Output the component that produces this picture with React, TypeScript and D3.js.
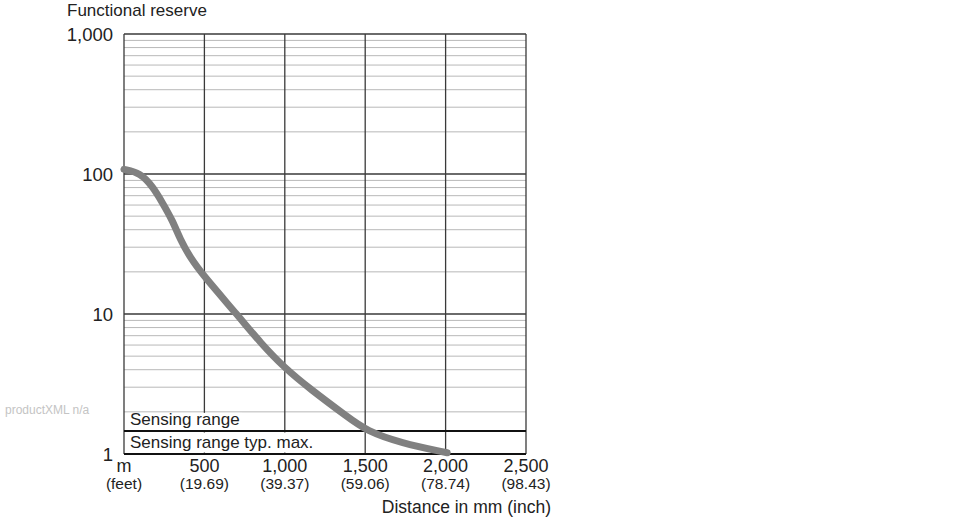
import React from "react";
import * as d3 from "d3";

const distances = [0, 100, 180, 240, 300, 350, 410, 490, 710, 850, 1000, 1160, 1390, 1510, 1720, 2010];
const reserve = [108, 102, 81, 62, 47, 34, 25.5, 19, 9.7, 6.2, 4.1, 2.9, 1.84, 1.46, 1.2, 1.02];

const xTicks = [0, 500, 1000, 1500, 2000, 2500];
const xLabels = ["m", "500", "1,000", "1,500", "2,000", "2,500"];
const xSubLabels = ["(feet)", "(19.69)", "(39.37)", "(59.06)", "(78.74)", "(98.43)"];
const yTicks = [1, 10, 100, 1000];
const yLabels = ["1", "10", "100", "1,000"];
const sensingRangeValue = 2;
const sensingRangeMaxValue = 1.46;

const W = 970;
const H = 520;
const FONT = "'Liberation Sans', Arial, sans-serif";
const TEXT = "#222";

export default function App() {
  const x = d3.scaleLinear().domain([0, 2500]).range([124, 526]);
  const y = d3.scaleLog().domain([1, 1000]).range([454, 34]);

  const minor: number[] = [];
  for (const dec of [1, 10, 100]) {
    for (let k = 2; k <= 9; k++) minor.push(dec * k);
  }

  const line = d3
    .line<number>()
    .x((_, i) => x(distances[i]))
    .y((d) => y(d))
    .curve(d3.curveBasis);

  const x0 = x(0);
  const x1 = x(2500);
  const ySR = y(sensingRangeValue);
  const ySRM = y(sensingRangeMaxValue);

  return (
    <svg
      width={W}
      height={H}
      style={{ position: "absolute", left: 0, top: 0, background: "#fff" }}
      fontFamily={FONT}
    >
      <rect x={0} y={0} width={W} height={H} fill="#fff" />
      {minor.map((v) => (
        <line key={"m" + v} x1={x0} x2={x1} y1={y(v)} y2={y(v)} stroke="#b8b8b8" strokeWidth={1} />
      ))}
      {xTicks.map((t) => (
        <line key={"v" + t} x1={x(t)} x2={x(t)} y1={y(1000)} y2={y(1)} stroke="#3a3a3a" strokeWidth={1.3} />
      ))}
      {yTicks.map((t) => (
        <line key={"h" + t} x1={x0} x2={x1} y1={y(t)} y2={y(t)} stroke="#3a3a3a" strokeWidth={1.3} />
      ))}
      <rect x={128} y={ySR + 1} width={114} height={ySRM - ySR - 2} fill="#fff" />
      <rect x={128} y={ySRM + 1.5} width={188} height={y(1) - ySRM - 3} fill="#fff" />
      <line x1={x0} x2={x1} y1={ySRM} y2={ySRM} stroke="#111" strokeWidth={2} />
      <line x1={x0} x2={x1} y1={y(1)} y2={y(1)} stroke="#111" strokeWidth={2} />
      <text x={130} y={425} fontSize={17} fill={TEXT}>Sensing range</text>
      <text x={130} y={448} fontSize={17} fill={TEXT}>Sensing range typ. max.</text>

      <path
        d={line(reserve) || ""}
        fill="none"
        stroke="#808080"
        strokeWidth={7}
        strokeLinecap="round"
        strokeLinejoin="round"
      />

      {yTicks.map((t, i) => (
        <text key={"yl" + t} x={113} y={y(t) + 6.5} textAnchor="end" fontSize={18.5} fill={TEXT}>
          {yLabels[i]}
        </text>
      ))}
      {xTicks.map((t, i) => (
        <g key={"xl" + t}>
          <text x={x(t)} y={472} textAnchor="middle" fontSize={18} fill={TEXT}>
            {xLabels[i]}
          </text>
          <text x={x(t)} y={489} textAnchor="middle" fontSize={15.5} fill={TEXT}>
            {xSubLabels[i]}
          </text>
        </g>
      ))}
      <text x={67} y={16} fontSize={17} fill={TEXT}>Functional reserve</text>
      <text x={551} y={513} textAnchor="end" fontSize={17.5} fill={TEXT}>Distance in mm (inch)</text>
      <text x={5} y={414} fontSize={12} fill="#c4c4c4">productXML n/a</text>
    </svg>
  );
}
